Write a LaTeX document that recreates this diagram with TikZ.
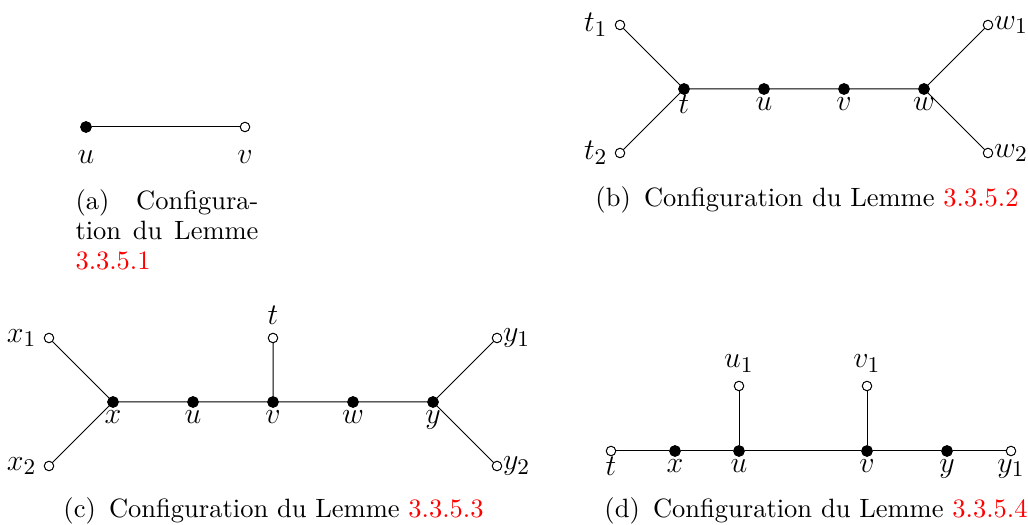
\documentclass[tikz,border=0pt]{standalone}
\usepackage{xcolor}
\definecolor{refred}{RGB}{255,0,0}
\begin{document}
\begin{tikzpicture}[x=0.4pt,y=-0.4pt,
  blk/.style={circle,fill=black,draw=black,line width=0.3pt,inner sep=0pt,minimum size=4.4pt},
  wht/.style={circle,fill=white,draw=black,line width=0.4pt,inner sep=0pt,minimum size=3.8pt},
  edge/.style={draw=black,line width=0.4pt},
  lbl/.style={inner sep=0pt,font=\fontsize{12.3}{14}\selectfont},
  captxt/.style={inner sep=0pt,anchor=base,font=\fontsize{10.6}{12.7}\selectfont}]
\useasboundingbox (0,0) rectangle (1028,525);
% ---------- (a)
\node[blk] (au) at (86,127) {};
\node[wht] (av) at (245,127) {};
\draw[edge] (au) -- (av);
\node[lbl,anchor=north] (lau) at (86,150) {$u$};
\node[lbl,anchor=north] (lav) at (245,150) {$v$};
\node[captxt,anchor=base west] (capa1) at (75,210) {\makebox[73.2pt][s]{(a)\hfill Configura-}};
\node[captxt,anchor=base west] (capa2) at (75,240) {\makebox[73.2pt][s]{tion du Lemme}};
\node[captxt,anchor=base west] (capa3) at (75,270) {\textcolor{refred}{3.3.5.1}};
% ---------- (b)
\node[wht] (bt1) at (620,25) {};
\node[wht] (bt2) at (620,153) {};
\node[blk] (bt) at (684,89) {};
\node[blk] (bu) at (764,89) {};
\node[blk] (bv) at (844,89) {};
\node[blk] (bw) at (924,89) {};
\node[wht] (bw1) at (988,25) {};
\node[wht] (bw2) at (988,153) {};
\draw[edge] (bt1) -- (bt) (bt2) -- (bt) (bt) -- (bu) -- (bv) -- (bw) (bw) -- (bw1) (bw) -- (bw2);
\node[lbl,anchor=east] (lbt1) at (608,25) {$t_1$};
\node[lbl,anchor=east] (lbt2) at (608,153) {$t_2$};
\node[lbl,anchor=west] (lbw1) at (993.5,25) {$w_1$};
\node[lbl,anchor=west] (lbw2) at (993.5,153) {$w_2$};
\node[lbl,anchor=north] (lbt) at (684,95) {$t$};
\node[lbl,anchor=north] (lbu) at (764,97) {$u$};
\node[lbl,anchor=north] (lbv) at (844,97) {$v$};
\node[lbl,anchor=north] (lbw) at (924,97) {$w$};
\node[captxt] (capb) at (807,207) {(b)\enspace Configuration du Lemme \textcolor{refred}{3.3.5.2}};
% ---------- (c)
\node[wht] (cx1) at (49,338) {};
\node[wht] (cx2) at (49,466) {};
\node[blk] (cx) at (113,402) {};
\node[blk] (cu) at (193,402) {};
\node[blk] (cv) at (273,402) {};
\node[blk] (cw) at (353,402) {};
\node[blk] (cy) at (433,402) {};
\node[wht] (cy1) at (497,338) {};
\node[wht] (cy2) at (497,466) {};
\node[wht] (ct) at (273,338) {};
\draw[edge] (cx1) -- (cx) (cx2) -- (cx) (cx) -- (cu) -- (cv) -- (cw) -- (cy) (cy) -- (cy1) (cy) -- (cy2) (cv) -- (ct);
\node[lbl,anchor=east] (lcx1) at (37,338) {$x_1$};
\node[lbl,anchor=east] (lcx2) at (37,466) {$x_2$};
\node[lbl,anchor=west] (lcy1) at (502.5,338) {$y_1$};
\node[lbl,anchor=west] (lcy2) at (502.5,466) {$y_2$};
\node[lbl,anchor=south] (lct) at (273,325) {$t$};
\node[lbl,anchor=north] (lcx) at (113,410) {$x$};
\node[lbl,anchor=north] (lcu) at (193,410) {$u$};
\node[lbl,anchor=north] (lcv) at (273,410) {$v$};
\node[lbl,anchor=north] (lcw) at (353,410) {$w$};
\node[lbl,anchor=north] (lcy) at (433,410) {$y$};
\node[captxt] (capc) at (273.5,518) {(c)\enspace Configuration du Lemme \textcolor{refred}{3.3.5.3}};
% ---------- (d)
\node[wht] (dt) at (611,451) {};
\node[blk] (dx) at (675,451) {};
\node[blk] (du) at (739,451) {};
\node[blk] (dv) at (867,451) {};
\node[blk] (dy) at (947,451) {};
\node[wht] (dy1) at (1011,451) {};
\node[wht] (du1) at (739,386) {};
\node[wht] (dv1) at (867,386) {};
\draw[edge] (dt) -- (dx) -- (du) -- (dv) -- (dy) -- (dy1) (du) -- (du1) (dv) -- (dv1);
\node[lbl,anchor=south] (ldu1) at (739,373) {$u_1$};
\node[lbl,anchor=south] (ldv1) at (867,373) {$v_1$};
\node[lbl,anchor=north] (ldt) at (611,457) {$t$};
\node[lbl,anchor=north] (ldx) at (675,459) {$x$};
\node[lbl,anchor=north] (ldu) at (739,459) {$u$};
\node[lbl,anchor=north] (ldv) at (867,459) {$v$};
\node[lbl,anchor=north] (ldy) at (947,459) {$y$};
\node[lbl,anchor=north] (ldy1) at (1011,459) {$y_1$};
\node[captxt] (capd) at (816,518) {(d)\enspace Configuration du Lemme \textcolor{refred}{3.3.5.4}};
\end{tikzpicture}
\end{document}
